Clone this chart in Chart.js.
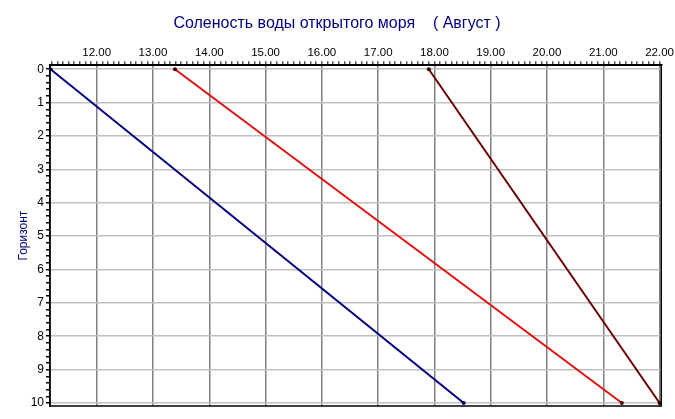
<!DOCTYPE html>
<html>
<head>
<meta charset="utf-8">
<script src="https://cdn.jsdelivr.net/npm/chart.js@4"></script>
<style>
html,body{margin:0;padding:0;background:#fff;}
#wrap{width:675px;height:419px;}
</style>
</head>
<body>
<div id="wrap"><canvas id="c" width="675" height="419"></canvas></div>
<script>
const chartTitle = 'Соленость воды открытого моря    ( Август )';
const yAxisTitle = 'Горизонт';
const horizons = [0, 10];
const seriesBlue = [11.18, 18.52];
const seriesRed = [13.39, 21.33];
const seriesDark = [17.90, 22.00];
const xTickLabels = ['12.00', '13.00', '14.00', '15.00', '16.00', '17.00', '18.00', '19.00', '20.00', '21.00', '22.00'];
const yTickLabels = ['0', '1', '2', '3', '4', '5', '6', '7', '8', '9', '10'];
const xMin = 11.17, xMax = 22.03;
const yMin = -0.12, yMax = 10.09;

function pts(vals) { return vals.map((v, i) => ({ x: v, y: horizons[i] })); }
function isInt(v) { return Math.abs(v - Math.round(v)) < 1e-6; }

// major ticks from label arrays, minor ticks subdividing them
function majorMinor(labels, sub, from) {
  const majors = labels.map(Number);
  const out = [];
  const step = majors[1] - majors[0];
  const start = from !== undefined ? from : majors[0];
  for (let k = 0; ; k++) {
    const v = Math.round((start + k * step / sub) * 1000) / 1000;
    if (v > majors[majors.length - 1] + 1e-9) break;
    out.push({ value: v });
  }
  return out;
}

const borderPlugin = {
  id: 'frame',
  afterDatasetsDraw(chart) {
    const a = chart.chartArea, ctx = chart.ctx;
    ctx.save();
    ctx.strokeStyle = '#000';
    ctx.lineWidth = 1.5;
    ctx.strokeRect(a.left, a.top, a.right - a.left, a.bottom - a.top);
    ctx.restore();
  }
};

const fam = '"Liberation Sans", Arial, sans-serif';

new Chart(document.getElementById('c'), {
  type: 'scatter',
  data: {
    datasets: [
      { data: pts(seriesBlue), showLine: true, borderColor: '#000080', backgroundColor: '#000060', borderWidth: 2, pointRadius: 2, pointBorderWidth: 0 },
      { data: pts(seriesRed), showLine: true, borderColor: '#e01010', backgroundColor: '#500000', borderWidth: 2, pointRadius: 2, pointBorderWidth: 0 },
      { data: pts(seriesDark), showLine: true, borderColor: '#6a0000', backgroundColor: '#300000', borderWidth: 2, pointRadius: 2, pointBorderWidth: 0 }
    ]
  },
  options: {
    responsive: false,
    animation: false,
    layout: { padding: { left: 12, right: 13, top: 0, bottom: 13 } },
    plugins: {
      legend: { display: false },
      tooltip: { enabled: false },
      title: {
        display: true,
        text: chartTitle,
        color: '#000080',
        font: { family: fam, size: 16, weight: 'normal' },
        padding: { top: 14, bottom: 8 }
      }
    },
    scales: {
      x: {
        type: 'linear',
        position: 'top',
        min: xMin,
        max: xMax,
        afterFit: s => { s.height = 24; },
        afterBuildTicks: s => { s.ticks = majorMinor(xTickLabels, 10, 11.2); },
        ticks: {
          autoSkip: false,
          maxRotation: 0,
          minRotation: 0,
          padding: 1,
          color: '#000',
          font: { family: fam, size: 11.5 },
          callback: v => isInt(v) ? Number(v).toFixed(2) : ''
        },
        grid: {
          color: ctx => (ctx.tick && isInt(ctx.tick.value)) ? '#808080' : 'rgba(0,0,0,0)',
          tickColor: '#555',
          tickLength: 4,
          lineWidth: 1.5
        },
        border: { display: true, color: '#000', width: 1.5 }
      },
      y: {
        type: 'linear',
        reverse: true,
        min: yMin,
        max: yMax,
        afterFit: s => { s.width = 38; },
        afterBuildTicks: s => { s.ticks = majorMinor(yTickLabels, 5); },
        title: {
          display: true,
          text: yAxisTitle,
          color: '#000080',
          font: { family: fam, size: 12 },
          padding: { top: 4, bottom: 0 }
        },
        ticks: {
          autoSkip: false,
          padding: 2,
          color: '#000',
          font: { family: fam, size: 12 },
          callback: v => isInt(v) ? String(Math.round(v)) : ''
        },
        grid: {
          color: ctx => (ctx.tick && isInt(ctx.tick.value)) ? '#c0c0c0' : 'rgba(0,0,0,0)',
          tickColor: '#000',
          tickLength: 4,
          lineWidth: 1.5
        },
        border: { display: true, color: '#000', width: 1.5 }
      }
    }
  },
  plugins: [borderPlugin]
});
</script>
</body>
</html>
